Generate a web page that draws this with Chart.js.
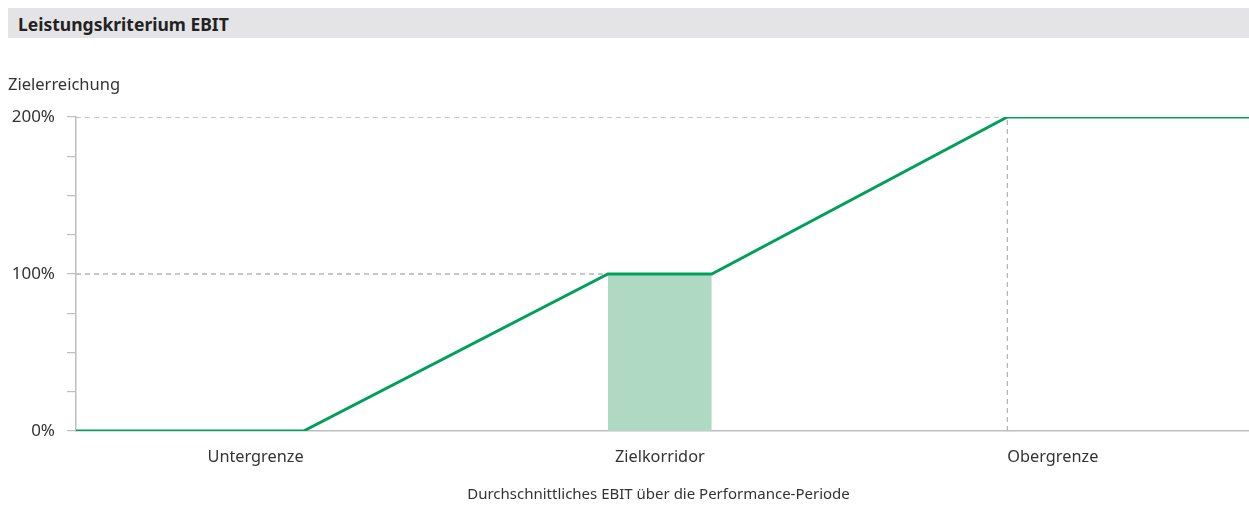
<!DOCTYPE html>
<html><head><meta charset="utf-8">
<script src="https://cdn.jsdelivr.net/npm/chart.js@4/dist/chart.umd.min.js"></script>
<style>
html,body{margin:0;padding:0;background:#fff;}
#wrap{position:relative;width:1249px;height:525px;}
#hdr{position:absolute;left:8px;top:8px;width:1241px;height:30px;background:#e4e4e6;}
#hdr span{position:absolute;left:10px;top:4px;font:bold 17.5px "Noto Sans",sans-serif;color:#222;}
#ylab{position:absolute;left:8px;top:72px;font:16.5px "Noto Sans",sans-serif;color:#333;}
canvas{position:absolute;left:0;top:0;}
</style></head>
<body><div id="wrap"><canvas id="c" width="1249" height="525"></canvas>
<div id="hdr"><span>Leistungskriterium EBIT</span></div>
<div id="ylab">Zielerreichung</div></div>
<script>
const title = "Leistungskriterium EBIT";
const yTitle = "Zielerreichung";
const xTitle = "Durchschnittliches EBIT über die Performance-Periode";
// x positions in arbitrary EBIT units (0..100)
const curveX = [0, 19.4, 45.35, 54.2, 79.4, 100];
const curveY = [0, 0, 100, 100, 200, 200];
const corridorX = [45.35, 54.2];
const corridorY = [100, 100];
const xMarkers = [
  {label: "Untergrenze", value: 19.4, align: "right"},
  {label: "Zielkorridor", value: (45.35 + 54.2) / 2, align: "center"},
  {label: "Obergrenze", value: 79.4, align: "left"}
];
const yLabelValues = [0, 100, 200];

const green = "#00a05a";
const grey = "#bdbdc2";
const dashGrey = "#b5b5ba";

const pts = (xs, ys) => xs.map((x, i) => ({x, y: ys[i]}));

const xLabelsPlugin = {
  id: "xLabels",
  afterDraw(chart) {
    const ctx = chart.ctx, xs = chart.scales.x, area = chart.chartArea;
    ctx.save();
    ctx.fillStyle = "#333";
    ctx.font = "16.3px 'Noto Sans', sans-serif";
    ctx.textBaseline = "middle";
    xMarkers.forEach(m => {
      ctx.textAlign = m.align;
      ctx.fillText(m.label, xs.getPixelForValue(m.value), area.bottom + 26);
    });
    ctx.font = "15px 'Noto Sans', sans-serif";
    ctx.textAlign = "center";
    ctx.fillText(xTitle, (area.left + area.right) / 2 - 4, area.bottom + 64);
    ctx.restore();
  }
};

new Chart(document.getElementById("c"), {
  type: "line",
  data: {
    datasets: [
      {data: pts(curveX, curveY), borderColor: green, borderWidth: 3, pointRadius: 0, fill: false, order: 0, tension: 0},
      {data: pts(corridorX, corridorY), borderWidth: 0, borderColor: "rgba(0,0,0,0)", backgroundColor: "#b0d9c3", fill: "origin", pointRadius: 0, order: 2},
      {data: [{x: 0, y: 100}, {x: corridorX[0], y: 100}], borderColor: dashGrey, borderWidth: 1.3, borderDash: [5, 4], pointRadius: 0, order: 3},
      {data: [{x: 0, y: 200}, {x: curveX[4], y: 200}], borderColor: dashGrey, borderWidth: 1.3, borderDash: [5, 4], pointRadius: 0, order: 3},
      {data: [{x: curveX[4], y: 0}, {x: curveX[4], y: 200}], borderColor: dashGrey, borderWidth: 1.3, borderDash: [5, 4], pointRadius: 0, order: 3}
    ]
  },
  options: {
    responsive: false,
    animation: false,
    events: [],
    layout: {padding: {top: 117, left: 8, right: 0, bottom: 94}},
    plugins: {legend: {display: false}, tooltip: {enabled: false}, title: {display: false}},
    scales: {
      x: {
        type: "linear", min: 0, max: 100,
        ticks: {display: false},
        grid: {display: false, drawTicks: false},
        border: {display: true, color: grey, width: 1.5},
        afterFit(s) { s.height = 0; }
      },
      y: {
        min: 0, max: 200,
        ticks: {
          stepSize: 25, color: "#333", padding: 12,
          font: {family: "'Noto Sans', sans-serif", size: 17},
          callback: v => yLabelValues.includes(v) ? v + "%" : ""
        },
        grid: {drawOnChartArea: false, drawTicks: true, tickLength: 9, color: grey, lineWidth: 1.2},
        border: {display: true, color: grey, width: 1.5},
        afterFit(s) { s.width = 68; }
      }
    }
  },
  plugins: [xLabelsPlugin]
});
</script></body></html>
